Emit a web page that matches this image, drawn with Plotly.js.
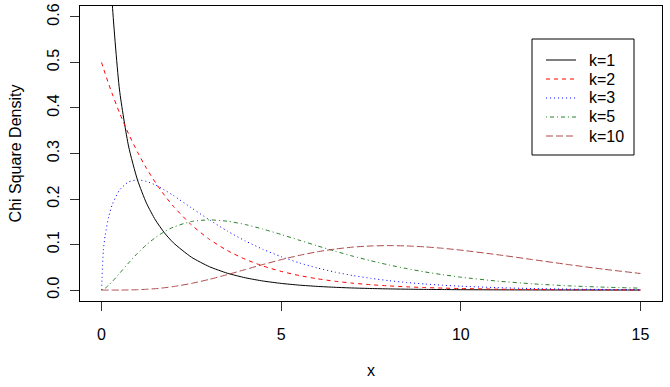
<!DOCTYPE html>
<html>
<head>
<meta charset="utf-8">
<script src="https://cdn.plot.ly/plotly-3.0.1.min.js"></script>
<style>html,body{margin:0;padding:0;background:#fff;}#chart{width:670px;height:387px;}</style>
</head>
<body>
<div id="chart"></div>
<script>
// x grid (shared by all series)
var xVals = [0, 0.05, 0.1, 0.2, 0.3, 0.5, 0.75, 1, 1.25, 1.5, 1.75, 2, 2.5, 3, 3.5, 4, 4.5, 5, 5.5, 6, 6.5, 7, 7.5, 8, 8.5, 9, 9.5, 10, 11, 12, 13, 14, 15];

// Chi-square density values
var k1 = [null, 1.740, 1.2000, 0.8072, 0.6269, 0.4394, 0.3166, 0.2420, 0.1910, 0.1539, 0.1257, 0.1038, 0.07229, 0.05140, 0.03706, 0.02700, 0.01982, 0.01465, 0.01087, 0.008109, 0.006067, 0.004553, 0.003426, 0.002583, 0.001952, 0.001477, 0.001120, 0.000850, 0.000492, 0.000285, 0.000166, 0.0000972, 0.0000570];
var k2 = [0.5, 0.4877, 0.4756, 0.4524, 0.4304, 0.3894, 0.3436, 0.3033, 0.2676, 0.2362, 0.2084, 0.1839, 0.1433, 0.1116, 0.08689, 0.06767, 0.05270, 0.04104, 0.03196, 0.02489, 0.01939, 0.01510, 0.01176, 0.009158, 0.007132, 0.005554, 0.004326, 0.003369, 0.002043, 0.001239, 0.000752, 0.000456, 0.000277];
var k3 = [0, 0.0870, 0.1200, 0.1614, 0.1881, 0.2197, 0.2375, 0.2420, 0.2388, 0.2308, 0.2200, 0.2076, 0.1807, 0.1542, 0.1297, 0.1080, 0.08919, 0.07325, 0.05979, 0.04865, 0.03944, 0.03187, 0.02570, 0.02066, 0.01659, 0.01329, 0.01064, 0.008500, 0.005412, 0.003425, 0.002159, 0.001361, 0.000855];
var k5 = [0, 0.00145, 0.0040, 0.01076, 0.01881, 0.03662, 0.05938, 0.08067, 0.0995, 0.1154, 0.1283, 0.1384, 0.1506, 0.1542, 0.1513, 0.1440, 0.1338, 0.1221, 0.1096, 0.0973, 0.08545, 0.07436, 0.06425, 0.05509, 0.04701, 0.03987, 0.03369, 0.02833, 0.01984, 0.0137, 0.009356, 0.006351, 0.004275];
var k10 = [0, 0, 0.0000001, 0.0000019, 0.0000091, 0.0000634, 0.000283, 0.00079, 0.001702, 0.003114, 0.005091, 0.007664, 0.01457, 0.02353, 0.03395, 0.04511, 0.05628, 0.06680, 0.07617, 0.08402, 0.09012, 0.09441, 0.09689, 0.09768, 0.09695, 0.09490, 0.09176, 0.08773, 0.07791, 0.06693, 0.05591, 0.04561, 0.03646];

var seriesNames = ["k=1", "k=2", "k=3", "k=5", "k=10"];
var seriesData = [k1, k2, k3, k5, k10];
var seriesColors = ["#000000", "#FF0000", "#0000FF", "#2A7F2A", "#B04A4A"];
var seriesDash = ["solid", "4px,4px", "1px,3px", "1px,3px,4px,3px", "7px,3px"];

var xTicks = [0, 5, 10, 15];
var yTicks = [0, 0.1, 0.2, 0.3, 0.4, 0.5, 0.6];
var yTickText = ["0.0", "0.1", "0.2", "0.3", "0.4", "0.5", "0.6"];

var FONT = "'Liberation Sans', Arial, Helvetica, sans-serif";
var W = 670, H = 387;
var M = {l: 80, r: 8, t: 6, b: 86};
var PW = W - M.l - M.r, PH = H - M.t - M.b;
function px(x) { return (x - M.l) / PW; }
function py(y) { return (H - M.b - y) / PH; }

var traces = seriesData.map(function (ys, i) {
  return {
    x: xVals, y: ys, type: "scatter", mode: "lines", name: seriesNames[i],
    line: {color: seriesColors[i], width: 1, dash: seriesDash[i], shape: "spline", smoothing: 0.6},
    showlegend: false, hoverinfo: "skip"
  };
});

// Legend drawn manually to match the base-R style legend box
var shapes = [{
  type: "rect", xref: "paper", yref: "paper",
  x0: px(532), x1: px(634), y0: py(155), y1: py(39),
  line: {color: "#000", width: 1}, fillcolor: "#fff", layer: "above"
}];
var annotations = [];
var rowY = [60, 79, 98, 117, 136];
seriesNames.forEach(function (nm, i) {
  shapes.push({
    type: "line", xref: "paper", yref: "paper",
    x0: px(546), x1: px(576), y0: py(rowY[i]), y1: py(rowY[i]),
    line: {color: seriesColors[i], width: 1, dash: seriesDash[i]}, layer: "above"
  });
  annotations.push({
    xref: "paper", yref: "paper", x: px(587), y: py(rowY[i]),
    xanchor: "left", yanchor: "middle", showarrow: false, text: nm,
    font: {family: FONT, size: 16, color: "#000"}
  });
});

var layout = {
  width: W, height: H, margin: M,
  paper_bgcolor: "#fff", plot_bgcolor: "#fff",
  font: {family: FONT, size: 16, color: "#000"},
  showlegend: false,
  xaxis: {
    range: [-0.6, 15.6], tickvals: xTicks, ticktext: xTicks.map(String),
    ticks: "outside", ticklen: 9, tickcolor: "#333", tickwidth: 1,
    showline: true, mirror: true, linecolor: "#000", linewidth: 1,
    showgrid: false, zeroline: false, ticklabelstandoff: 10,
    tickfont: {family: FONT, size: 16, color: "#000"},
    title: {text: "x", font: {family: FONT, size: 16, color: "#000"}, standoff: 22}
  },
  yaxis: {
    range: [-0.024, 0.624], tickvals: yTicks, ticktext: yTickText, tickangle: -90,
    ticks: "outside", ticklen: 9, tickcolor: "#333", tickwidth: 1,
    showline: true, mirror: true, linecolor: "#000", linewidth: 1,
    showgrid: false, zeroline: false, ticklabelstandoff: 5,
    tickfont: {family: FONT, size: 16, color: "#000"},
    title: {text: "Chi Square Density", font: {family: FONT, size: 16, color: "#000"}, standoff: 18}
  },
  shapes: shapes,
  annotations: annotations
};

Plotly.newPlot("chart", traces, layout, {staticPlot: true, displayModeBar: false});
</script>
</body>
</html>
